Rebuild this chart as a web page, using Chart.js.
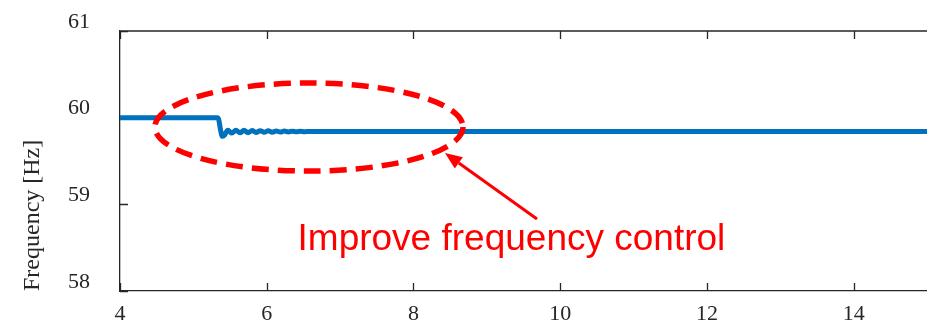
<!DOCTYPE html>
<html>
<head>
<meta charset="utf-8">
<script src="https://cdn.jsdelivr.net/npm/chart.js@4/dist/chart.umd.min.js"></script>
<style>
  html, body { margin: 0; padding: 0; background: #fff; }
  #wrap { width: 927px; height: 325px; }
</style>
</head>
<body>
<div id="wrap"><canvas id="freqChart"></canvas></div>
<script>
// time [s] and frequency [Hz]
const timeS = [4, 5.33, 5.345, 5.37, 5.395, 5.42, 5.47, 5.525, 5.58, 5.635, 5.69, 5.745, 5.80, 5.855,
  5.91, 5.965, 6.02, 6.075, 6.13, 6.185, 6.24, 6.295, 6.35, 6.405, 6.46, 6.515, 6.6, 15];
const freqHz = [60.0, 60.0, 59.98, 59.86, 59.785, 59.795, 59.855, 59.822, 59.856, 59.825, 59.854, 59.827,
  59.852, 59.829, 59.85, 59.831, 59.848, 59.833, 59.846, 59.835, 59.845, 59.836, 59.844, 59.837, 59.843,
  59.838, 59.84, 59.84];
const xTicks = [4, 6, 8, 10, 12, 14];
const yTicks = [58, 59, 60, 61];
const noteText = 'Improve frequency control';

const axisColor = '#262626';
const serif = "'Liberation Serif', 'Times New Roman', serif";

// inward tick marks and top border, under the line
const boxPlugin = {
  id: 'boxPlugin',
  beforeDatasetsDraw(chart) {
    const { ctx, chartArea: a, scales } = chart;
    const xs = scales.x, ys = scales.y;
    ctx.save();
    ctx.strokeStyle = axisColor;
    ctx.lineWidth = 1.3;
    ctx.beginPath();
    ctx.moveTo(a.left, a.top);
    ctx.lineTo(a.right, a.top);
    xTicks.forEach(v => {
      const px = Math.round(xs.getPixelForValue(v)) + 0.5;
      ctx.moveTo(px, a.bottom); ctx.lineTo(px, a.bottom - 8);
      ctx.moveTo(px, a.top); ctx.lineTo(px, a.top + 8);
    });
    yTicks.forEach(v => {
      const py = Math.round(ys.getPixelForValue(v)) + 0.5;
      ctx.moveTo(a.left, py); ctx.lineTo(a.left + 8, py);
    });
    ctx.stroke();
    ctx.restore();
  }
};

// red ellipse, arrow and note on top
const notePlugin = {
  id: 'notePlugin',
  afterDraw(chart) {
    const { ctx, scales } = chart;
    const xs = scales.x, ys = scales.y;
    ctx.save();
    const cx = xs.getPixelForValue(6.576), cy = ys.getPixelForValue(59.892);
    const rx = xs.getPixelForValue(6.576 + 2.1) - cx;
    const ry = ys.getPixelForValue(59.892 - 0.508) - cy;
    ctx.strokeStyle = '#ff0000';
    ctx.lineWidth = 5.5;
    ctx.setLineDash([17, 9]);
    ctx.beginPath();
    ctx.ellipse(cx, cy, rx, ry, 0, 0, Math.PI * 2);
    ctx.stroke();
    ctx.setLineDash([]);

    const tx = xs.getPixelForValue(8.43), ty = ys.getPixelForValue(59.592);
    const sx = xs.getPixelForValue(9.684), sy = ys.getPixelForValue(58.831);
    const ang = Math.atan2(ty - sy, tx - sx);
    const hl = 17, hw = 7;
    const bx = tx - hl * Math.cos(ang), by = ty - hl * Math.sin(ang);
    ctx.lineWidth = 3;
    ctx.beginPath();
    ctx.moveTo(sx, sy);
    ctx.lineTo(bx, by);
    ctx.stroke();
    ctx.fillStyle = '#ff0000';
    ctx.beginPath();
    ctx.moveTo(tx, ty);
    ctx.lineTo(bx + hw * Math.sin(ang), by - hw * Math.cos(ang));
    ctx.lineTo(bx - hw * Math.sin(ang), by + hw * Math.cos(ang));
    ctx.closePath();
    ctx.fill();

    ctx.font = "37px 'Liberation Sans', Arial, sans-serif";
    ctx.textBaseline = 'alphabetic';
    ctx.textAlign = 'left';
    ctx.fillText(noteText, xs.getPixelForValue(6.42), ys.getPixelForValue(58.473));
    ctx.restore();
  }
};

new Chart(document.getElementById('freqChart'), {
  type: 'line',
  data: {
    datasets: [{
      data: timeS.map((t, i) => ({ x: t, y: freqHz[i] })),
      borderColor: '#0072BD',
      borderWidth: 5,
      pointRadius: 0,
      cubicInterpolationMode: 'monotone',
      fill: false
    }]
  },
  options: {
    responsive: true,
    maintainAspectRatio: false,
    animation: false,
    layout: { padding: { top: 31, right: 0, left: 0, bottom: 0 } },
    plugins: { legend: { display: false }, tooltip: { enabled: false } },
    scales: {
      x: {
        type: 'linear',
        min: 4,
        max: 15,
        grid: { display: false, drawTicks: false },
        border: { display: true, color: axisColor, width: 1.3 },
        ticks: {
          stepSize: 2,
          includeBounds: false,
          maxRotation: 0,
          padding: 10,
          color: axisColor,
          font: { family: serif, size: 22 }
        },
        afterFit(scale) {
          scale.height = 34;
          scale.paddingLeft = 0;
          scale.paddingRight = 0;
        }
      },
      y: {
        min: 58,
        max: 61,
        grid: { display: false, drawTicks: false },
        border: { display: true, color: axisColor, width: 1.3 },
        ticks: {
          stepSize: 1,
          padding: 30,
          labelOffset: -9,
          color: axisColor,
          font: { family: serif, size: 22 }
        },
        title: {
          display: true,
          text: 'Frequency [Hz]',
          align: 'start',
          color: axisColor,
          padding: { top: 18, bottom: 0 },
          font: { family: serif, size: 24 }
        },
        afterFit(scale) {
          scale.width = 120;
          scale.paddingTop = 0;
          scale.paddingBottom = 0;
        }
      }
    }
  },
  plugins: [boxPlugin, notePlugin]
});
</script>
</body>
</html>
